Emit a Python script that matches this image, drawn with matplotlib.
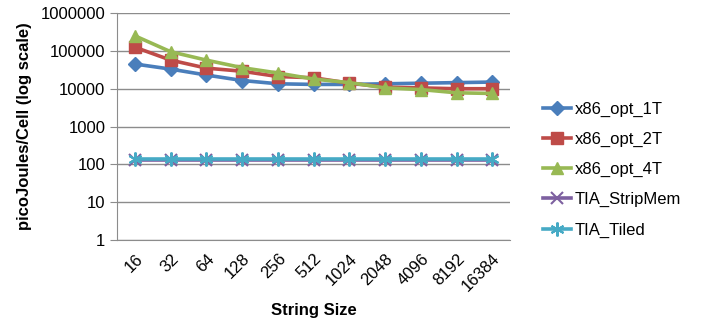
import numpy as np
import matplotlib
matplotlib.use('Agg')
import matplotlib.pyplot as plt

plt.rcParams['font.family'] = ['Liberation Sans', 'DejaVu Sans']

sizes = ['16', '32', '64', '128', '256', '512', '1024', '2048', '4096', '8192', '16384']
opt_1t = [45000, 33000, 23000, 16500, 13500, 13000, 13000, 13500, 14000, 14500, 15000]
opt_2t = [125000, 57000, 35000, 29000, 21000, 19500, 14000, 11000, 10500, 10000, 10000]
opt_4t = [250000, 95000, 57000, 36000, 26000, 18000, 14500, 10500, 9500, 7800, 7500]
strip_mem = [128, 128, 128, 128, 128, 128, 128, 128, 128, 128, 128]
tiled = [138, 138, 138, 138, 138, 138, 138, 138, 138, 138, 138]

fig = plt.figure(figsize=(7.01, 3.27), dpi=100)
ax = fig.add_axes([0.167, 0.266, 0.561, 0.694])

x = np.arange(len(sizes))
ax.plot(x, opt_1t, color='#4A7EBB', lw=2.6, marker='D', ms=7.5, label='x86_opt_1T')
ax.plot(x, opt_2t, color='#BE4B48', lw=2.6, marker='s', ms=8, label='x86_opt_2T')
ax.plot(x, opt_4t, color='#98B954', lw=2.6, marker='^', ms=9, label='x86_opt_4T')
ax.plot(x, strip_mem, color='#7D60A0', lw=2.6, marker='x', ms=8, mew=1.5, label='TIA_StripMem')
ax.plot(x, tiled, color='#46AAC5', lw=2.6, marker=(6, 2, 0), ms=10, mew=1.5, label='TIA_Tiled')

ax.set_yscale('log')
ax.set_ylim(1, 1000000)
ax.set_yticks([1, 10, 100, 1000, 10000, 100000, 1000000])
ax.set_yticklabels(['1', '10', '100', '1000', '10000', '100000', '1000000'])
ax.minorticks_off()
ax.set_xlim(-0.5, len(sizes) - 0.5)
ax.set_xticks(x)
ax.set_xticklabels(sizes, rotation=45, ha='right', rotation_mode='anchor')

ax.grid(axis='y', color='#8c8c8c', lw=1)
ax.set_axisbelow(True)
for s in ['top', 'right']:
    ax.spines[s].set_visible(False)
for s in ['left', 'bottom']:
    ax.spines[s].set_color('#8c8c8c')
ax.tick_params(axis='y', length=5, color='#8c8c8c', labelsize=12)
ax.tick_params(axis='x', length=0, labelsize=12, pad=8)

ax.set_xlabel('String Size', fontsize=12, fontweight='bold', labelpad=6)
ax.set_ylabel('picoJoules/Cell (log scale)', fontsize=12, fontweight='bold', labelpad=6)

ax.legend(loc='center left', bbox_to_anchor=(1.045, 0.31), frameon=False,
          fontsize=12, handlelength=1.7, handletextpad=0.2, labelspacing=0.9)

fig.savefig('out.png', dpi=100)
